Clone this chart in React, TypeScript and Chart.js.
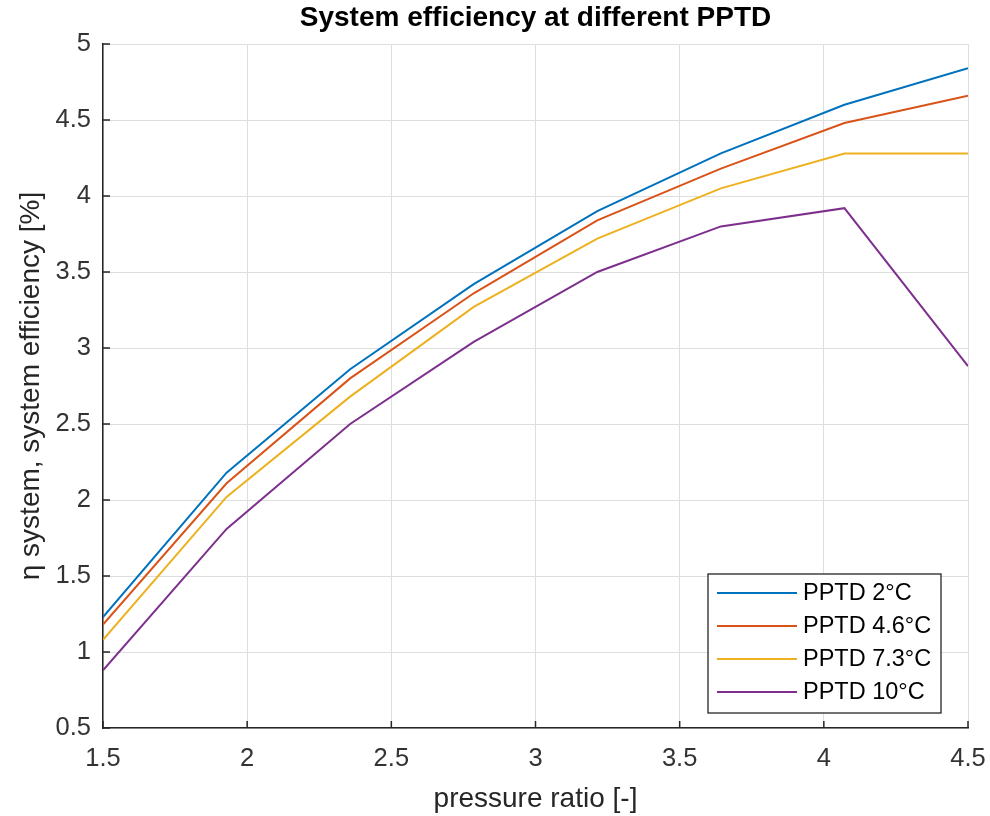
import React, { useEffect, useRef } from "react";
import { Chart, registerables } from "chart.js";

Chart.register(...registerables);

const pressureRatio = [1.5, 1.9286, 2.3571, 2.7857, 3.2143, 3.6429, 4.0714, 4.5];
const pptd2 = [1.23, 2.18, 2.86, 3.42, 3.9, 4.28, 4.6, 4.84];
const pptd46 = [1.18, 2.11, 2.8, 3.36, 3.84, 4.18, 4.48, 4.66];
const pptd73 = [1.08, 2.02, 2.68, 3.27, 3.72, 4.05, 4.28, 4.28];
const pptd10 = [0.88, 1.81, 2.5, 3.04, 3.5, 3.8, 3.92, 2.88];

const seriesLabels = ["PPTD 2°C", "PPTD 4.6°C", "PPTD 7.3°C", "PPTD 10°C"];
const seriesColors = ["#0072BD", "#D95319", "#EDB120", "#7E2F8E"];
const seriesValues = [pptd2, pptd46, pptd73, pptd10];

const titleText = "System efficiency at different PPTD";
const xTitle = "pressure ratio [-]";
const yTitle = "η system, system efficiency [%]";

const FONT = "'Liberation Sans', Arial, Helvetica, sans-serif";
const AXIS = "#262626";
const TICKTEXT = "#333333";

const fmt = (v: any) => String(Number(v));

const innerTicks = {
  id: "innerTicks",
  afterDraw(chart: any) {
    const ctx = chart.ctx;
    const area = chart.chartArea;
    const xs = chart.scales.x;
    const ys = chart.scales.y;
    ctx.save();
    ctx.strokeStyle = AXIS;
    ctx.lineWidth = 1.5;
    ctx.beginPath();
    xs.ticks.forEach((t: any) => {
      const px = xs.getPixelForValue(t.value);
      ctx.moveTo(px, area.bottom);
      ctx.lineTo(px, area.bottom - 7);
    });
    ys.ticks.forEach((t: any) => {
      const py = ys.getPixelForValue(t.value);
      ctx.moveTo(area.left, py);
      ctx.lineTo(area.left + 7, py);
    });
    ctx.stroke();
    ctx.restore();
  },
};

const boxLegend = {
  id: "boxLegend",
  afterDraw(chart: any) {
    const ctx = chart.ctx;
    const area = chart.chartArea;
    const right = area.right - 27;
    const bottom = area.bottom - 15;
    const width = 233;
    const rowH = 33;
    const height = 139;
    const left = right - width;
    const top = bottom - height;
    ctx.save();
    ctx.fillStyle = "#ffffff";
    ctx.fillRect(left, top, width, height);
    ctx.strokeStyle = AXIS;
    ctx.lineWidth = 1.3;
    ctx.strokeRect(left, top, width, height);
    ctx.font = `23.5px ${FONT}`;
    ctx.textBaseline = "middle";
    ctx.textAlign = "left";
    chart.data.datasets.forEach((ds: any, i: number) => {
      const cy = top + 19 + i * rowH;
      ctx.strokeStyle = ds.borderColor;
      ctx.lineWidth = 2;
      ctx.beginPath();
      ctx.moveTo(left + 9, cy);
      ctx.lineTo(left + 89, cy);
      ctx.stroke();
      ctx.fillStyle = "#000000";
      ctx.fillText(ds.label, left + 95, cy + 1);
    });
    ctx.restore();
  },
};

export default function App() {
  const ref = useRef<HTMLCanvasElement | null>(null);
  useEffect(() => {
    document.body.style.margin = "0";
    const canvas = ref.current;
    if (!canvas) return;
    const chart = new Chart(canvas, {
      type: "line",
      data: {
        datasets: seriesValues.map((vals, i) => ({
          label: seriesLabels[i],
          data: pressureRatio.map((x, j) => ({ x, y: vals[j] })),
          borderColor: seriesColors[i],
          backgroundColor: seriesColors[i],
          borderWidth: 2,
          pointRadius: 0,
          tension: 0,
          fill: false,
        })),
      },
      options: {
        animation: false,
        responsive: false,
        devicePixelRatio: 1,
        layout: { padding: { left: 0, right: 22, top: 0, bottom: 0 } },
        plugins: {
          legend: { display: false },
          tooltip: { enabled: false },
          title: {
            display: true,
            text: titleText,
            fullSize: false,
            color: "#000000",
            font: { family: FONT, size: 28, weight: "bold", lineHeight: 1.2 },
            padding: { top: 1, bottom: 9.4 },
          },
        },
        scales: {
          x: {
            type: "linear",
            min: 1.5,
            max: 4.5,
            afterFit(scale: any) {
              scale.height = 88;
              scale.paddingLeft = 0;
              scale.paddingRight = 0;
            },
            ticks: {
              stepSize: 0.5,
              color: TICKTEXT,
              padding: 16,
              maxRotation: 0,
              callback: fmt,
              font: { family: FONT, size: 25.5 },
            },
            grid: { color: "#dedede", lineWidth: 1, drawTicks: false },
            border: { display: true, color: AXIS, width: 1.5 },
            title: {
              display: true,
              text: xTitle,
              color: AXIS,
              font: { family: FONT, size: 28, lineHeight: 1.2 },
              padding: { top: 0, bottom: 0 },
            },
          },
          y: {
            type: "linear",
            min: 0.5,
            max: 5,
            afterFit(scale: any) {
              scale.width = 103;
              scale.paddingTop = 0;
              scale.paddingBottom = 0;
            },
            ticks: {
              stepSize: 0.5,
              color: TICKTEXT,
              padding: 12,
              callback: fmt,
              font: { family: FONT, size: 25.5 },
            },
            grid: { color: "#dedede", lineWidth: 1, drawTicks: false },
            border: { display: true, color: AXIS, width: 1.5 },
            title: {
              display: true,
              text: yTitle,
              color: AXIS,
              font: { family: FONT, size: 28, lineHeight: 1.2 },
              padding: { top: 14, bottom: 0 },
            },
          },
        },
      },
      plugins: [innerTicks, boxLegend],
    });
    return () => chart.destroy();
  }, []);
  return (
    <div style={{ position: "absolute", left: 0, top: 0, width: 990, height: 816, background: "#fff" }}>
      <canvas ref={ref} width={990} height={816} style={{ width: 990, height: 816, display: "block" }} />
    </div>
  );
}
